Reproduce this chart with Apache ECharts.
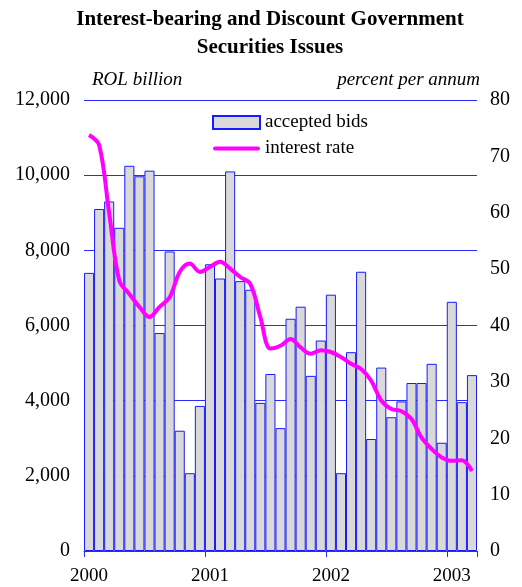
<!DOCTYPE html>
<html>
<head>
<meta charset="utf-8">
<script src="https://cdn.jsdelivr.net/npm/echarts@6/dist/echarts.min.js"></script>
<style>
html,body{margin:0;padding:0;background:#fff;}
#chart{width:522px;height:587px;}
</style>
</head>
<body>
<div id="chart"></div>
<script>
// Months Jan 2000 .. Mar 2003
const months = [
  '2000-01','2000-02','2000-03','2000-04','2000-05','2000-06','2000-07','2000-08','2000-09','2000-10','2000-11','2000-12',
  '2001-01','2001-02','2001-03','2001-04','2001-05','2001-06','2001-07','2001-08','2001-09','2001-10','2001-11','2001-12',
  '2002-01','2002-02','2002-03','2002-04','2002-05','2002-06','2002-07','2002-08','2002-09','2002-10','2002-11','2002-12',
  '2003-01','2003-02','2003-03'
];
// accepted bids, ROL billion
const acceptedBids = [
  7400, 9100, 9300, 8600, 10250, 9970, 10120, 5800, 7970, 3200, 2070, 3860,
  7630, 7250, 10100, 7180, 6950, 3940, 4710, 3270, 6180, 6500, 4660, 5600,
  6820, 2070, 5290, 7430, 2980, 4880, 3560, 3980, 4470, 4470, 4980, 2880,
  6630, 3960, 4680
];
// interest rate, percent per annum
const interestRate = [
  73.8, 72.0, 59.9, 48.0, 45.6, 43.3, 41.5, 43.3, 45.0, 49.5, 51.0, 49.5,
  50.4, 51.3, 50.1, 48.6, 47.4, 41.5, 35.9, 36.4, 37.6, 36.1, 35.0, 35.6,
  35.3, 34.4, 33.2, 32.3, 30.2, 26.7, 25.2, 24.8, 23.4, 20.1, 18.1, 16.6,
  16.0, 16.1, 14.2
];
const leftTicks = [0, 2000, 4000, 6000, 8000, 10000, 12000];
const rightTicks = [0, 10, 20, 30, 40, 50, 60, 70, 80];

const serif = '"Liberation Serif", "Times New Roman", serif';
const chart = echarts.init(document.getElementById('chart'), null, {renderer: 'canvas'});
chart.setOption({
  animation: false,
  backgroundColor: '#fff',
  title: {
    text: 'Interest-bearing and Discount Government\nSecurities Issues',
    left: 265,
    textAlign: 'center',
    top: 1,
    textStyle: {fontFamily: serif, fontSize: 21, fontWeight: 'bold', color: '#000', lineHeight: 28}
  },
  legend: {
    orient: 'vertical',
    left: 207,
    top: 108,
    itemWidth: 47,
    itemHeight: 13,
    itemGap: 7,
    textStyle: {fontFamily: serif, fontSize: 19, color: '#000'},
    data: [
      {name: 'accepted bids', icon: 'rect'},
      {name: 'interest rate', icon: 'path://M2.5 0H97.5A2.5 2.5 0 0 1 97.5 9H2.5A2.5 2.5 0 0 1 2.5 0Z'}
    ]
  },
  grid: {left: 84, right: 45, top: 100, bottom: 36},
  xAxis: {
    type: 'category',
    data: months,
    boundaryGap: true,
    axisLine: {lineStyle: {color: '#2a2aff', width: 1}},
    axisTick: {
      show: true,
      length: 6,
      inside: false,
      lineStyle: {color: '#2a2aff'},
      interval: function (i) { return i % 12 === 0; }
    },
    axisLabel: {
      interval: function (i) { return i % 12 === 0; },
      formatter: function (v) { return v.slice(0, 4); },
      fontFamily: serif, fontSize: 19, color: '#000',
      margin: 16
    }
  },
  yAxis: [
    {
      type: 'value',
      min: 0, max: 12000, interval: 2000,
      name: 'ROL billion',
      nameLocation: 'end',
      nameGap: 11,
      nameTextStyle: {fontFamily: serif, fontSize: 19, fontStyle: 'italic', color: '#000', align: 'left', padding: [0, 0, 0, 8]},
      axisLine: {show: false},
      axisTick: {show: false},
      axisLabel: {
        fontFamily: serif, fontSize: 20, color: '#000', margin: 14,
        formatter: function (v) { return v.toLocaleString('en-US'); }
      },
      splitLine: {show: true, lineStyle: {color: '#2a2aff', width: 1}}
    },
    {
      type: 'value',
      min: 0, max: 80, interval: 10,
      position: 'right',
      name: 'percent per annum',
      nameLocation: 'end',
      nameGap: 11,
      nameTextStyle: {fontFamily: serif, fontSize: 19, fontStyle: 'italic', color: '#000', align: 'right', padding: [0, -3, 0, 0]},
      axisLine: {show: false},
      axisTick: {show: false},
      axisLabel: {fontFamily: serif, fontSize: 20, color: '#000', margin: 13},
      splitLine: {show: false}
    }
  ],
  series: [
    {
      name: 'accepted bids',
      type: 'bar',
      yAxisIndex: 0,
      data: acceptedBids,
      barCategoryGap: '0%',
      itemStyle: {color: '#d9d9d9', borderColor: '#1a1aff', borderWidth: 1}
    },
    {
      name: 'interest rate',
      type: 'line',
      yAxisIndex: 1,
      data: interestRate,
      smooth: 0.35,
      showSymbol: false,
      symbol: 'none',
      lineStyle: {color: '#ff00ff', width: 4},
      itemStyle: {color: '#ff00ff'}
    }
  ]
});
</script>
</body>
</html>
